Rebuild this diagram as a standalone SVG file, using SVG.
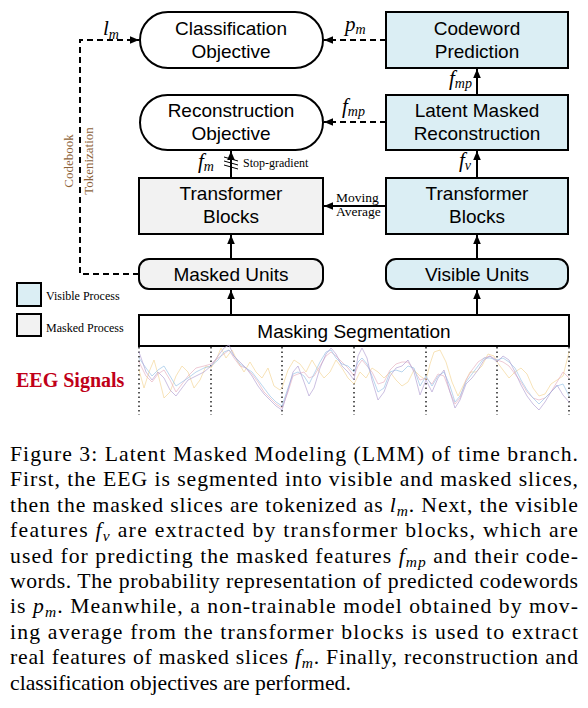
<svg xmlns="http://www.w3.org/2000/svg" width="588" height="708" viewBox="0 0 588 708">
<style>
.box{stroke:#000;stroke-width:2}
.vis{fill:#dbeef4}
.msk{fill:#f2f2f2}
.wht{fill:#fff}
.t{font-family:"Liberation Sans",Arial,sans-serif;font-size:19px;fill:#000;text-anchor:middle}
.s{font-family:"Liberation Serif","Times New Roman",serif;fill:#000}
.m{font-family:"Liberation Serif","Times New Roman",serif;font-style:italic;fill:#000}
.cap{font-family:"Liberation Serif","Times New Roman",serif;font-size:21.7px;fill:#000}
.ln{stroke:#000;stroke-width:2;fill:none}
.dash{stroke:#000;stroke-width:2;fill:none;stroke-dasharray:6 4}
.eeg{fill:none;stroke-width:0.9;stroke-linejoin:round;stroke-linecap:round;opacity:0.75}
</style>
<defs>
<marker id="ah" markerWidth="10" markerHeight="10" refX="9" refY="5" orient="auto" markerUnits="userSpaceOnUse">
<path d="M0,1.2 L9,5 L0,8.8 Z" fill="#000"/>
</marker>
</defs>
<rect width="588" height="708" fill="#fff"/>

<g id="connectors">
<line class="ln" x1="231" y1="315" x2="231" y2="290" marker-end="url(#ah)"/>
<line class="ln" x1="477" y1="315" x2="477" y2="290" marker-end="url(#ah)"/>
<line class="ln" x1="231" y1="259" x2="231" y2="235" marker-end="url(#ah)"/>
<line class="ln" x1="477" y1="259" x2="477" y2="235" marker-end="url(#ah)"/>
<line class="ln" x1="477" y1="178" x2="477" y2="151" marker-end="url(#ah)"/>
<line class="ln" x1="477" y1="95" x2="477" y2="69" marker-end="url(#ah)"/>
<line class="ln" x1="231" y1="178" x2="231" y2="151" marker-end="url(#ah)"/>
<line class="ln" x1="386" y1="206" x2="324" y2="206" marker-end="url(#ah)"/>
<line class="dash" x1="386" y1="40" x2="324" y2="40" marker-end="url(#ah)"/>
<line class="dash" x1="386" y1="122" x2="324" y2="122" marker-end="url(#ah)"/>
<path class="dash" d="M139,274 H80 V40 H139" marker-end="url(#ah)"/>
<g stroke="#000" stroke-width="1">
<line x1="224" y1="157" x2="238" y2="161"/>
<line x1="224" y1="161" x2="238" y2="165"/>
<line x1="224" y1="165" x2="238" y2="169"/>
</g>
<text class="m" font-size="21" x="103" y="35">l<tspan font-size="14" dy="4">m</tspan></text>
<text class="m" font-size="21" x="345" y="31">p<tspan font-size="14" dy="3">m</tspan></text>
<text class="m" font-size="21" x="342" y="113">f<tspan font-size="14" dy="3">mp</tspan></text>
<text class="m" font-size="21" x="449" y="85">f<tspan font-size="14" dy="3">mp</tspan></text>
<text class="m" font-size="21" x="459" y="167">f<tspan font-size="14" dy="3">v</tspan></text>
<text class="m" font-size="21" x="198" y="168">f<tspan font-size="14" dy="3">m</tspan></text>
<text class="s" font-size="12" x="243" y="167">Stop-gradient</text>
<text class="s" font-size="13.5" x="336" y="202">Moving</text>
<text class="s" font-size="13.5" x="336" y="216">Average</text>
<text class="s" font-size="13" style="fill:#8c6239" text-anchor="middle" transform="translate(73,161) rotate(-90)">Codebook</text>
<text class="s" font-size="13" style="fill:#8c6239" text-anchor="middle" transform="translate(93,161) rotate(-90)">Tokenization</text>
</g>

<g id="classification-objective">
<rect class="box wht" x="140" y="12" width="183" height="56" rx="28"/>
<text class="t" x="231" y="35">Classification</text>
<text class="t" x="231" y="58">Objective</text>
</g>
<g id="reconstruction-objective">
<rect class="box wht" x="140" y="95" width="183" height="55" rx="27.5"/>
<text class="t" x="231" y="117">Reconstruction</text>
<text class="t" x="231" y="140">Objective</text>
</g>
<g id="transformer-masked">
<rect class="box msk" x="139" y="178" width="184" height="56"/>
<text class="t" x="231" y="200">Transformer</text>
<text class="t" x="231" y="223">Blocks</text>
</g>
<g id="masked-units">
<rect class="box msk" x="139" y="259" width="184" height="30" rx="10"/>
<text class="t" x="231" y="281">Masked Units</text>
</g>
<g id="codeword-prediction">
<rect class="box vis" x="386" y="12" width="182" height="56"/>
<text class="t" x="477" y="35">Codeword</text>
<text class="t" x="477" y="58">Prediction</text>
</g>
<g id="latent-masked-reconstruction">
<rect class="box vis" x="386" y="95" width="182" height="55"/>
<text class="t" x="477" y="117">Latent Masked</text>
<text class="t" x="477" y="140">Reconstruction</text>
</g>
<g id="transformer-visible">
<rect class="box vis" x="386" y="178" width="182" height="56"/>
<text class="t" x="477" y="200">Transformer</text>
<text class="t" x="477" y="223">Blocks</text>
</g>
<g id="visible-units">
<rect class="box vis" x="386" y="259" width="182" height="30" rx="10"/>
<text class="t" x="477" y="281">Visible Units</text>
</g>
<g id="masking-segmentation">
<rect class="box wht" x="139" y="315" width="430" height="31"/>
<text class="t" x="354" y="338">Masking Segmentation</text>
</g>

<g id="legend">
<rect class="box vis" x="17" y="283" width="24" height="23"/>
<text class="s" font-size="12" x="46" y="300">Visible Process</text>
<rect class="box msk" x="17" y="314" width="24" height="22"/>
<text class="s" font-size="12" x="46" y="332">Masked Process</text>
</g>

<g id="eeg-signals">
<text class="s" font-size="20" font-weight="bold" style="fill:#c00018" x="16" y="387">EEG Signals</text>
<g stroke="#000" stroke-width="1.3" stroke-dasharray="1.5 3">
<line x1="139" y1="347" x2="139" y2="415"/>
<line x1="211" y1="347" x2="211" y2="415"/>
<line x1="282" y1="347" x2="282" y2="415"/>
<line x1="354" y1="347" x2="354" y2="415"/>
<line x1="426" y1="347" x2="426" y2="415"/>
<line x1="497" y1="347" x2="497" y2="415"/>
<line x1="569" y1="347" x2="569" y2="415"/>
</g>
<polyline class="eeg" stroke="#f3d596" points="139,370 144,388 149,372 154,360 159,378 164,398 170,392 176,376 182,366 188,372 194,388 200,380 206,366 211,368 216,360 221,348 226,358 232,350 238,362 244,372 250,362 256,372 262,378 268,368 274,386 280,390 282,388 288,370 294,360 300,364 306,372 312,360 318,370 324,378 330,372 336,360 342,368 348,378 354,384 360,372 366,378 372,368 378,372 384,378 390,372 396,380 402,386 408,382 414,370 420,376 426,380 430,364 434,352 440,350 446,362 452,382 458,396 464,384 470,372 476,372 482,366 488,354 494,356 497,362 503,370 509,378 515,372 521,368 527,374 533,388 539,396 545,394 551,384 557,380 563,376 569,352"/>
<polyline class="eeg" stroke="#e6b0c0" points="139,362 146,376 152,382 158,374 164,370 170,380 176,392 182,384 188,376 196,368 204,366 211,364 218,358 224,354 229,350 234,358 240,366 246,368 252,374 258,382 264,392 270,398 276,404 282,408 288,392 293,376 298,374 304,372 309,378 314,376 320,366 326,356 331,352 336,356 342,362 348,368 354,376 358,366 362,360 367,366 372,372 378,384 384,382 390,370 396,364 402,362 408,362 414,370 420,380 426,378 432,384 438,374 444,376 450,392 455,404 460,398 466,380 472,370 478,362 484,358 490,356 497,360 503,362 509,366 515,374 521,382 527,392 533,398 539,400 545,398 551,392 557,382 563,372 569,378"/>
<polyline class="eeg" stroke="#98c2e6" points="139,358 146,368 152,376 158,370 164,366 170,376 176,386 182,382 188,378 196,372 204,368 211,366 218,360 224,352 229,350 234,356 240,364 246,368 252,372 258,380 264,388 270,396 276,402 282,406 288,388 293,374 298,372 304,376 309,384 314,374 320,362 326,352 331,350 336,358 342,364 348,366 354,372 358,362 362,358 367,364 372,376 378,392 384,388 390,372 396,370 402,372 408,366 414,368 420,386 426,376 432,386 438,376 444,372 450,386 455,402 460,396 466,382 472,374 478,366 484,358 490,358 497,360 503,358 509,362 515,368 521,380 527,390 533,398 539,404 545,398 551,392 557,386 563,384 569,396"/>
<polyline class="eeg" stroke="#b29fd2" points="139,352 146,372 152,380 158,372 164,378 170,390 176,396 182,388 188,380 196,376 204,372 211,366 218,356 224,348 229,345 234,356 240,362 246,368 252,376 258,386 264,394 270,400 276,406 282,410 288,390 293,372 298,366 304,382 309,396 314,388 320,368 326,354 331,348 336,354 342,366 348,372 354,380 358,356 362,348 367,358 372,380 378,400 384,392 390,376 396,368 402,366 408,360 414,372 420,395 426,380 432,392 438,378 444,370 450,392 455,408 460,400 466,384 472,378 478,370 484,360 490,356 497,362 503,356 509,360 515,372 521,385 527,396 533,404 539,410 545,402 551,392 557,385 563,395 569,402"/>
</g>

<g id="caption">
<text class="cap" x="10" y="461" textLength="568" lengthAdjust="spacing">Figure 3: Latent Masked Modeling (LMM) of time branch.</text>
<text class="cap" x="10" y="486.4" textLength="568" lengthAdjust="spacing">First, the EEG is segmented into visible and masked slices,</text>
<text class="cap" x="10" y="511.8" textLength="568" lengthAdjust="spacing">then the masked slices are tokenized as <tspan font-style="italic">l</tspan><tspan font-style="italic" font-size="15.5" dy="4">m</tspan><tspan dy="-4">. Next, the visible</tspan></text>
<text class="cap" x="10" y="537.2" textLength="568" lengthAdjust="spacing">features <tspan font-style="italic">f</tspan><tspan font-style="italic" font-size="15.5" dy="4">v</tspan><tspan dy="-4"> are extracted by transformer blocks, which are</tspan></text>
<text class="cap" x="10" y="562.6" textLength="568" lengthAdjust="spacing">used for predicting the masked features <tspan font-style="italic">f</tspan><tspan font-style="italic" font-size="15.5" dy="4">mp</tspan><tspan dy="-4"> and their code-</tspan></text>
<text class="cap" x="10" y="588" textLength="568" lengthAdjust="spacing">words. The probability representation of predicted codewords</text>
<text class="cap" x="10" y="613.4" textLength="568" lengthAdjust="spacing">is <tspan font-style="italic">p</tspan><tspan font-style="italic" font-size="15.5" dy="4">m</tspan><tspan dy="-4">. Meanwhile, a non-trainable model obtained by mov-</tspan></text>
<text class="cap" x="10" y="638.8" textLength="568" lengthAdjust="spacing">ing average from the transformer blocks is used to extract</text>
<text class="cap" x="10" y="664.2" textLength="568" lengthAdjust="spacing">real features of masked slices <tspan font-style="italic">f</tspan><tspan font-style="italic" font-size="15.5" dy="4">m</tspan><tspan dy="-4">. Finally, reconstruction and</tspan></text>
<text class="cap" x="10" y="689.6">classification objectives are performed.</text>
</g>
</svg>
